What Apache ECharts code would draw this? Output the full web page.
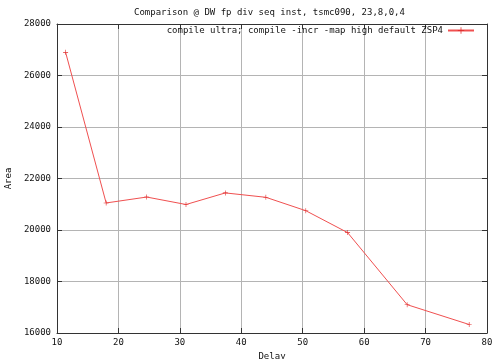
<!DOCTYPE html>
<html>
<head>
<meta charset="utf-8">
<script src="https://cdn.jsdelivr.net/npm/echarts@6/dist/echarts.min.js"></script>
<style>html,body{margin:0;padding:0;background:#fff}#c{width:503px;height:359px}</style>
</head>
<body>
<div id="c"></div>
<script>
const titleText = "Comparison @ DW fp div seq inst, tsmc090, 23,8,0,4";
const seriesName = "compile ultra; compile -incr -map high default ZSP4";
const delay = [11.4, 18.0, 24.6, 31.0, 37.4, 44.0, 50.5, 57.3, 67.0, 77.1];
const area = [26900, 21050, 21280, 20990, 21440, 21270, 20750, 19900, 17100, 16330];

const FONT = "DejaVu Sans Mono";
const plus = 'path://M4.4,0 L5.6,0 L5.6,4.4 L10,4.4 L10,5.6 L5.6,5.6 L5.6,10 L4.4,10 L4.4,5.6 L0,5.6 L0,4.4 L4.4,4.4 Z';
const chart = echarts.init(document.getElementById('c'), null, {renderer: 'canvas'});
const frame = '#333';
const grid = '#b4b4b4';
const txt = {fontFamily: FONT, fontSize: 9, color: '#111'};
chart.setOption({
  animation: false,
  backgroundColor: '#fff',
  title: {text: titleText, left: 134, top: 8, padding: 0,
    textStyle: Object.assign({}, txt, {fontWeight: 'normal'})},
  legend: {right: 28, top: 26, padding: 0, align: 'right', itemWidth: 26, itemHeight: 8, itemGap: 0,
    textStyle: Object.assign({}, txt, {padding: [0, 0, 0, 0]}),
    data: [{name: seriesName}]},
  grid: {left: 57, top: 24, width: 430, height: 309, containLabel: false, outerBoundsMode: 'none'},
  xAxis: [{
    type: 'value', min: 10, max: 80, interval: 10, position: 'bottom',
    name: 'Delay', nameLocation: 'middle', nameGap: 15, nameTextStyle: txt,
    axisLine: {show: true, onZero: false, lineStyle: {color: frame, width: 1}},
    axisTick: {show: true, inside: true, length: 5, lineStyle: {color: frame}},
    axisLabel: Object.assign({margin: 5, formatter: v => String(v)}, txt),
    splitLine: {show: true, lineStyle: {color: grid, width: 1}}
  }, {
    type: 'value', min: 10, max: 80, interval: 10, position: 'top',
    axisLine: {show: true, onZero: false, lineStyle: {color: frame, width: 1}},
    axisTick: {show: true, inside: true, length: 5, lineStyle: {color: frame}},
    axisLabel: {show: false}, splitLine: {show: false}
  }],
  yAxis: [{
    type: 'value', min: 16000, max: 28000, interval: 2000, position: 'left',
    name: 'Area', nameLocation: 'middle', nameGap: 42, nameRotate: 90, nameTextStyle: txt,
    axisLine: {show: true, onZero: false, lineStyle: {color: frame, width: 1}},
    axisTick: {show: true, inside: true, length: 5, lineStyle: {color: frame}},
    axisLabel: Object.assign({margin: 6, formatter: v => String(v)}, txt),
    splitLine: {show: true, lineStyle: {color: grid, width: 1}}
  }, {
    type: 'value', min: 16000, max: 28000, interval: 2000, position: 'right',
    axisLine: {show: true, onZero: false, lineStyle: {color: frame, width: 1}},
    axisTick: {show: true, inside: true, length: 5, lineStyle: {color: frame}},
    axisLabel: {show: false}, splitLine: {show: false}
  }],
  series: [{
    name: seriesName, type: 'line', xAxisIndex: 0, yAxisIndex: 0,
    data: delay.map((d, i) => [d, area[i]]),
    symbol: plus, symbolSize: 5, showSymbol: true,
    lineStyle: {color: '#f05050', width: 1},
    itemStyle: {color: '#e03030'}
  }]
});
</script>
</body>
</html>
